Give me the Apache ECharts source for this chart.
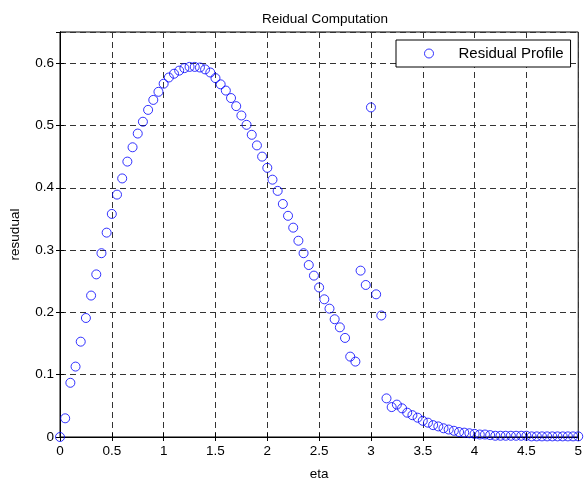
<!DOCTYPE html>
<html>
<head>
<meta charset="utf-8">
<script src="https://cdn.jsdelivr.net/npm/echarts@6/dist/echarts.min.js"></script>
<style>
html,body{margin:0;padding:0;background:#fff;}
#chart{width:585px;height:486px;}
</style>
</head>
<body>
<div id="chart"></div>
<script>
var etaValues = [0,0.05,0.1,0.15,0.2,0.25,0.3,0.35,0.4,0.45,0.5,0.55,0.6,0.65,0.7,0.75,0.8,0.85,0.9,0.95,
1.0,1.05,1.1,1.15,1.2,1.25,1.3,1.35,1.4,1.45,1.5,1.55,1.6,1.65,1.7,1.75,1.8,1.85,1.9,1.95,
2.0,2.05,2.1,2.15,2.2,2.25,2.3,2.35,2.4,2.45,2.5,2.55,2.6,2.65,2.7,2.75,2.8,2.85,2.9,2.95,
3.0,3.05,3.1,3.15,3.2,3.25,3.3,3.35,3.4,3.45,3.5,3.55,3.6,3.65,3.7,3.75,3.8,3.85,3.9,3.95,
4.0,4.05,4.1,4.15,4.2,4.25,4.3,4.35,4.4,4.45,4.5,4.55,4.6,4.65,4.7,4.75,4.8,4.85,4.9,4.95,5.0];
var residualValues = [0.000,0.030,0.087,0.113,0.153,0.191,0.227,0.261,0.295,0.328,
0.358,0.389,0.415,0.442,0.465,0.487,0.506,0.525,0.541,0.554,
0.567,0.577,0.583,0.588,0.592,0.594,0.594,0.593,0.590,0.585,
0.576,0.566,0.556,0.544,0.531,0.516,0.501,0.485,0.468,0.450,
0.432,0.413,0.395,0.374,0.355,0.336,0.315,0.295,0.276,0.259,
0.240,0.221,0.206,0.189,0.176,0.159,0.129,0.121,0.267,0.244,
0.529,0.229,0.195,0.062,0.048,0.052,0.046,0.039,0.035,0.031,
0.026,0.023,0.019,0.017,0.014,0.012,0.010,0.008,0.007,0.006,
0.005,0.004,0.004,0.003,0.002,0.002,0.002,0.002,0.002,0.002,
0.002,0.001,0.001,0.001,0.001,0.001,0.001,0.001,0.001,0.001,0.001];
var seriesName = 'Residual Profile';
var titleText = 'Reidual Computation';
var xName = 'eta';
var yName = 'resudual';

var points = etaValues.map(function(x, i){ return [x, residualValues[i]]; });
var font = 'Liberation Sans, Arial, sans-serif';
var gridLine = {show:true, lineStyle:{color:'#333', type:[6,4], width:1}};

var chart = echarts.init(document.getElementById('chart'), null, {renderer:'canvas'});
chart.setOption({
  animation:false,
  backgroundColor:'#fff',
  title:{text:titleText, left:320, textAlign:'center', top:7, textStyle:{fontFamily:font, fontSize:13.5, fontWeight:'normal', color:'#000'}},
  grid:{left:58, right:4, top:32, bottom:41, show:true, borderColor:'#000', borderWidth:1},
  legend:{
    data:[{name:seriesName, icon:'circle'}],
    left:396, top:40,
    padding:[6,7,6,28],
    itemWidth:9, itemHeight:9,
    itemStyle:{color:'rgba(0,0,0,0)', borderColor:'#0000ff', borderWidth:1},
    borderColor:'#000', borderWidth:1, backgroundColor:'#fff',
    textStyle:{fontFamily:font, fontSize:15, color:'#000', padding:[0,0,0,20]}
  },
  xAxis:[{
    type:'value', min:0, max:5, interval:0.5,
    name:xName, nameLocation:'middle', nameGap:30,
    nameTextStyle:{fontFamily:font, fontSize:13.5, color:'#000'},
    axisLine:{show:true, lineStyle:{color:'#000'}},
    axisTick:{show:true, inside:true, length:4, lineStyle:{color:'#000'}},
    axisLabel:{fontFamily:font, fontSize:13.5, color:'#000', margin:7},
    splitLine:gridLine
  },{
    type:'value', min:0, max:5, interval:0.5, position:'top',
    axisLine:{show:true, lineStyle:{color:'#000'}},
    axisTick:{show:true, inside:true, length:4, lineStyle:{color:'#000'}},
    axisLabel:{show:false}, splitLine:{show:false}
  }],
  yAxis:[{
    type:'value', min:0, max:0.65, interval:0.1,
    name:yName, nameLocation:'middle', nameGap:38,
    nameTextStyle:{fontFamily:font, fontSize:13.5, color:'#000'},
    axisLine:{show:true, lineStyle:{color:'#000'}},
    axisTick:{show:true, inside:true, length:4, lineStyle:{color:'#000'}},
    axisLabel:{fontFamily:font, fontSize:13.5, color:'#000', margin:6, showMaxLabel:false},
    splitLine:gridLine
  },{
    type:'value', min:0, max:0.65, interval:0.1, position:'right',
    axisLine:{show:true, lineStyle:{color:'#000'}},
    axisTick:{show:true, inside:true, length:4, lineStyle:{color:'#000'}},
    axisLabel:{show:false}, splitLine:{show:false}
  }],
  series:[{
    name:seriesName, type:'scatter', data:points,
    symbol:'circle', symbolSize:9,
    itemStyle:{color:'rgba(0,0,0,0)', borderColor:'#0000ff', borderWidth:1},
    clip:false
  }]
});
</script>
</body>
</html>
